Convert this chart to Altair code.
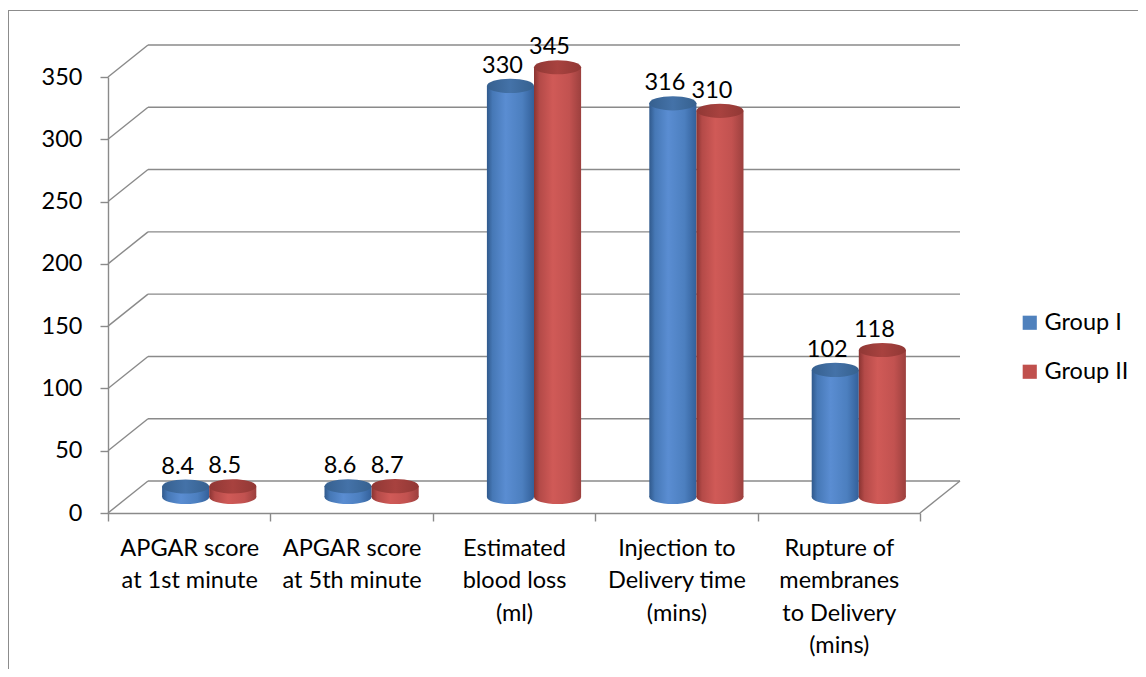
import altair as alt
import pandas as pd

# ---------------- data ----------------
categories = [
    ["APGAR score", "at 1st minute"],
    ["APGAR score", "at 5th minute"],
    ["Estimated", "blood loss", "(ml)"],
    ["Injection to", "Delivery time", "(mins)"],
    ["Rupture of", "membranes", "to Delivery", "(mins)"],
]
groups = ["Group I", "Group II"]
group1_values = [8.4, 8.6, 330, 316, 102]
group2_values = [8.5, 8.7, 345, 310, 118]
y_ticks = [0, 50, 100, 150, 200, 250, 300, 350]

cat_keys = ["|".join(c) for c in categories]
rows = []
for k, a, b in zip(cat_keys, group1_values, group2_values):
    rows.append({"cat": k, "group": groups[0], "value": a})
    rows.append({"cat": k, "group": groups[1], "value": b})
df = pd.DataFrame(rows)
grid = pd.DataFrame({"v": y_ticks})

# ---------------- style ----------------
FONT = "Lato"
FS = 23.5
GRID = "#8a8a8a"
GW = 1.4
W, H = 812, 436
DX, DY = 40, 32          # depth of the 3D box
BX, BY = 20, 16          # plane where the bars stand

def grad(stops):
    return alt.LinearGradient(
        gradient="linear", x1=0, y1=0, x2=1, y2=0,
        stops=[alt.GradientStop(offset=o, color=c) for o, c in stops],
    )

bar_grad = {
    "Group I": grad([(0, "#30598c"), (0.12, "#4678b6"), (0.4, "#5a8dd2"),
                     (0.75, "#4c7fbf"), (1, "#33609a")]),
    "Group II": grad([(0, "#8a3432"), (0.12, "#b44a48"), (0.4, "#d05a57"),
                      (0.75, "#c25250"), (1, "#9c403e")]),
}
top_grad = {
    "Group I": grad([(0, "#36608f"), (0.5, "#4472a8"), (1, "#36618f")]),
    "Group II": grad([(0, "#903835"), (0.5, "#a8423f"), (1, "#913835")]),
}
ELLIPSE = "M-1,0 A1,0.3,0,1,0,1,0 A1,0.3,0,1,0,-1,0 Z"

# ---------------- front / frame layer ----------------
y_front = alt.Scale(domain=[0, 350], nice=False)
y_axis = alt.Axis(
    values=y_ticks, tickSize=8, labelPadding=18, grid=False, title=None,
    labelFont=FONT, labelFontSize=FS, labelColor="#000000",
    domainColor=GRID, tickColor=GRID, domainWidth=GW, tickWidth=GW,
)
x_axis = alt.Axis(
    title=None, labelAngle=0, tickBand="extent", tickSize=8, labelPadding=15,
    labelFont=FONT, labelFontSize=FS, labelColor="#000000", labelLineHeight=32.5,
    labelExpr="datum.value ? split(datum.value, '|') : ''",
    domainColor=GRID, tickColor=GRID,
    domainWidth=GW, tickWidth=GW, labelBound=False, labelOverlap=False,
)

border_top = alt.Chart(grid).mark_rule(color="#8c8c8c", strokeWidth=1).encode(
    x=alt.value(-99.5), x2=alt.value(1040), y=alt.value(-66.5))
border_left = alt.Chart(grid).mark_rule(color="#8c8c8c", strokeWidth=1).encode(
    x=alt.value(-99.5), x2=alt.value(-99.5), y=alt.value(-66.5), y2=alt.value(600))

back_lines = alt.Chart(grid).mark_rule(color=GRID, strokeWidth=GW, yOffset=-DY).encode(
    y=alt.Y("v:Q", scale=y_front, axis=y_axis),
    x=alt.value(DX), x2=alt.value(W + DX),
)
diag_lines = alt.Chart(grid).mark_rule(color=GRID, strokeWidth=GW, y2Offset=-DY).encode(
    y=alt.Y("v:Q", scale=y_front),
    y2=alt.Y2("v:Q"),
    x=alt.value(0), x2=alt.value(DX),
)
floor_edge = alt.Chart(grid).transform_filter("datum.v == 0").mark_rule(
    color=GRID, strokeWidth=GW, y2Offset=-DY).encode(
    y=alt.Y("v:Q", scale=y_front),
    y2=alt.Y2("v:Q"),
    x=alt.value(W), x2=alt.value(W + DX),
)
x_axis_layer = alt.Chart(df).mark_square(opacity=0).encode(
    x=alt.X("cat:N", sort=cat_keys,
            scale=alt.Scale(domain=cat_keys, paddingInner=0, paddingOuter=0),
            axis=x_axis),
    color=alt.Color(
        "group:N",
        scale=alt.Scale(domain=groups, range=["#4F81BD", "#C0504D"]),
        legend=alt.Legend(
            title=None, orient="none", legendX=910, legendY=234,
            symbolType="square", symbolSize=200, symbolOpacity=1,
            symbolStrokeWidth=0, labelFont=FONT, labelFontSize=FS,
            labelColor="#000000", rowPadding=24, padding=0, labelOffset=3,
        ),
    ),
)

front = alt.layer(border_top, border_left, back_lines, diag_lines, floor_edge, x_axis_layer)

# ---------------- bars layer (mid-depth plane) ----------------
x_bar = alt.X("cat:N", sort=cat_keys,
              scale=alt.Scale(domain=cat_keys, range=[BX, W + BX],
                              paddingInner=0.42, paddingOuter=0.21),
              axis=None)
xo_bar = alt.XOffset("group:N",
                     scale=alt.Scale(domain=groups, paddingInner=0, paddingOuter=0))
y_bar_scale = alt.Scale(domain=[0, 350], nice=False, range=[H - BY, -BY])

bar_layers = []
for g in groups:
    base = alt.Chart(df).transform_filter(alt.datum.group == g).transform_calculate(zero="0")
    bottom = base.mark_point(shape=ELLIPSE, size=2218, filled=True, opacity=1,
                             strokeWidth=0, fill=bar_grad[g]).encode(
        x=x_bar, xOffset=xo_bar,
        y=alt.Y("zero:Q", scale=y_bar_scale, axis=None))
    body = base.mark_bar(fill=bar_grad[g]).encode(
        x=x_bar, xOffset=xo_bar,
        y=alt.Y("value:Q", scale=y_bar_scale, axis=None, stack=None),
        y2=alt.Y2("zero:Q"))
    top = base.mark_point(shape=ELLIPSE, size=2218, filled=True, opacity=1,
                          strokeWidth=0, fill=top_grad[g]).encode(
        x=x_bar, xOffset=xo_bar,
        y=alt.Y("value:Q", scale=y_bar_scale, axis=None))
    bar_layers += [bottom, body, top]

labels = alt.Chart(df).mark_text(
    font=FONT, fontSize=FS, color="#000000", baseline="bottom", dx=-8, dy=-8).encode(
    x=x_bar, xOffset=xo_bar,
    y=alt.Y("value:Q", scale=y_bar_scale, axis=None),
    text=alt.Text("value:Q"),
)

bars = alt.layer(*bar_layers, labels)

chart = alt.layer(front, bars).resolve_scale(
    x="independent", y="independent"
).properties(
    width=W, height=H,
    autosize=alt.AutoSizeParams(type="none"),
    padding={"left": 100, "top": 69, "right": 218, "bottom": 156},
).configure_view(stroke=None)

chart.save("out.html", embed_options={"renderer": "svg", "actions": False})
